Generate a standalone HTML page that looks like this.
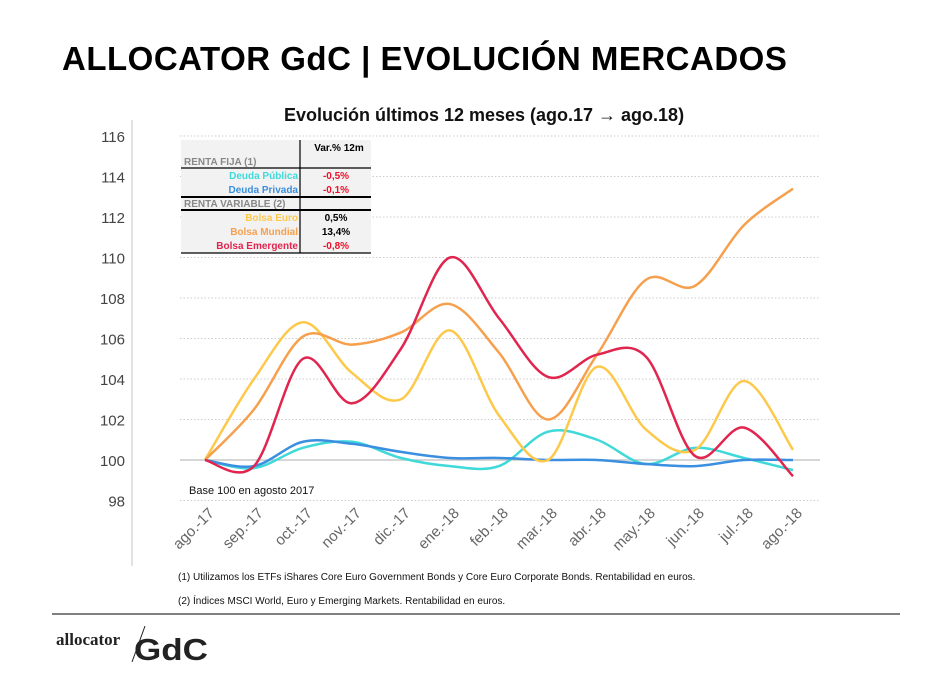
<!DOCTYPE html>
<html><head><meta charset="utf-8"><style>
body{margin:0;background:#fff;width:950px;height:673px;overflow:hidden;font-family:"Liberation Sans",sans-serif}
</style></head><body>
<svg id="s" width="950" height="673" xmlns="http://www.w3.org/2000/svg" font-family="Liberation Sans, sans-serif">
<text x="62" y="70" font-size="33" font-weight="bold" fill="#000" letter-spacing="0.5">ALLOCATOR GdC | EVOLUCIÓN MERCADOS</text>
<text x="484" y="121" font-size="18" font-weight="bold" text-anchor="middle" fill="#111">Evolución últimos 12 meses (ago.17 → ago.18)</text>
<line x1="132" y1="120" x2="132" y2="566" stroke="#d8d8d8" stroke-width="1.5"/>
<g id="grid"></g>
<rect x="181" y="140" width="190" height="113" fill="#f2f2f2"/>
<g font-size="10" font-weight="bold">
<line x1="300" y1="140" x2="300" y2="253" stroke="#000" stroke-width="1.2"/>
<text x="339" y="151" text-anchor="middle" fill="#000">Var.% 12m</text>
<text x="184" y="165" fill="#888">RENTA FIJA (1)</text>
<line x1="181" y1="168" x2="371" y2="168" stroke="#000" stroke-width="1.2"/>
<text x="298" y="179" text-anchor="end" fill="#3fd9d9">Deuda Pública</text><text x="336" y="179" text-anchor="middle" fill="#f0102a">-0,5%</text>
<text x="298" y="193" text-anchor="end" fill="#3a8fe0">Deuda Privada</text><text x="336" y="193" text-anchor="middle" fill="#f0102a">-0,1%</text>
<line x1="181" y1="197" x2="371" y2="197" stroke="#000" stroke-width="2"/>
<text x="184" y="207" fill="#888">RENTA VARIABLE (2)</text>
<line x1="181" y1="210" x2="371" y2="210" stroke="#000" stroke-width="2"/>
<text x="298" y="221" text-anchor="end" fill="#fdc94b">Bolsa Euro</text><text x="336" y="221" text-anchor="middle" fill="#000">0,5%</text>
<text x="298" y="235" text-anchor="end" fill="#f6a04d">Bolsa Mundial</text><text x="336" y="235" text-anchor="middle" fill="#000">13,4%</text>
<text x="298" y="249" text-anchor="end" fill="#e0254f">Bolsa Emergente</text><text x="336" y="249" text-anchor="middle" fill="#f0102a">-0,8%</text>
<line x1="181" y1="253" x2="371" y2="253" stroke="#000" stroke-width="1.2"/>
</g>
<line x1="180" y1="460" x2="820" y2="460" stroke="#c8c8c8" stroke-width="1.5"/>
<g id="series"></g>
<text x="189" y="494" font-size="11" fill="#111">Base 100 en agosto 2017</text>
<g id="xl" font-size="15" fill="#666"></g>
<text x="178" y="580" font-size="10" fill="#111">(1) Utilizamos los ETFs iShares Core Euro Government Bonds y Core Euro Corporate Bonds. Rentabilidad en euros.</text>
<text x="178" y="604" font-size="10" fill="#111">(2) Índices MSCI World, Euro y Emerging Markets. Rentabilidad en euros.</text>
<line x1="52" y1="614" x2="900" y2="614" stroke="#000" stroke-width="1"/>
<text x="56" y="645" font-size="17" font-weight="bold" font-family="Liberation Serif, serif" fill="#222">allocator</text>
<line x1="145" y1="626" x2="132" y2="662" stroke="#222" stroke-width="1"/>
<text x="134" y="660" font-size="31" font-weight="bold" fill="#222" textLength="74" lengthAdjust="spacingAndGlyphs">GdC</text>
</svg>
<script>
var NS="http://www.w3.org/2000/svg";
function Y(v){return 460-(v-100)*20.25}
function X(i){return 205+49*i}
var g=document.getElementById("grid");
for(var v=98;v<=116;v+=2){
 var t=document.createElementNS(NS,"text");t.setAttribute("x",125);t.setAttribute("y",Y(v)+6);t.setAttribute("text-anchor","end");t.setAttribute("font-size","15");t.setAttribute("fill","#444");t.textContent=v;g.appendChild(t);
 if(v!=100){var l=document.createElementNS(NS,"line");l.setAttribute("x1",180);l.setAttribute("x2",820);l.setAttribute("y1",Y(v));l.setAttribute("y2",Y(v));l.setAttribute("stroke","#ccc");l.setAttribute("stroke-dasharray","1.5,2");g.appendChild(l);}
}
var months=["ago.-17","sep.-17","oct.-17","nov.-17","dic.-17","ene.-18","feb.-18","mar.-18","abr.-18","may.-18","jun.-18","jul.-18","ago.-18"];
var xl=document.getElementById("xl");
months.forEach(function(m,i){var t=document.createElementNS(NS,"text");var x=X(i)+10,y=514;t.setAttribute("x",x);t.setAttribute("y",y);t.setAttribute("text-anchor","end");t.setAttribute("transform","rotate(-45 "+x+" "+y+")");t.textContent=m;xl.appendChild(t);});
var S=[
["#3fd9d9",[100,99.6,100.6,100.9,100.1,99.7,99.7,101.4,101.0,99.8,100.6,100.1,99.5]],
["#3a8fe0",[100,99.7,100.9,100.8,100.4,100.1,100.1,100.0,100.0,99.8,99.7,100.0,100.0]],
["#fdc94b",[100,104,106.8,104.3,103.0,106.4,102.2,100.0,104.6,101.5,100.5,103.9,100.5]],
["#f6a04d",[100,102.5,106.1,105.7,106.3,107.7,105.3,102.0,105.2,108.9,108.6,111.6,113.4]],
["#e0254f",[100,99.7,105.0,102.8,105.5,110.0,107.0,104.1,105.2,105.1,100.2,101.6,99.2]]];
var sg=document.getElementById("series");
S.forEach(function(s){var p=s[1].map(function(v,i){return [X(i),Y(v)]});var d="M"+p[0][0]+","+p[0][1];
for(var i=0;i<p.length-1;i++){var p0=p[i-1]||p[i],p1=p[i],p2=p[i+1],p3=p[i+2]||p2;var k=6;
d+=" C"+(p1[0]+(p2[0]-p0[0])/k)+","+(p1[1]+(p2[1]-p0[1])/k)+" "+(p2[0]-(p3[0]-p1[0])/k)+","+(p2[1]-(p3[1]-p1[1])/k)+" "+p2[0]+","+p2[1];}
var e=document.createElementNS(NS,"path");e.setAttribute("d",d);e.setAttribute("fill","none");e.setAttribute("stroke",s[0]);e.setAttribute("stroke-width","2.5");sg.appendChild(e);});
</script>
</body></html>
